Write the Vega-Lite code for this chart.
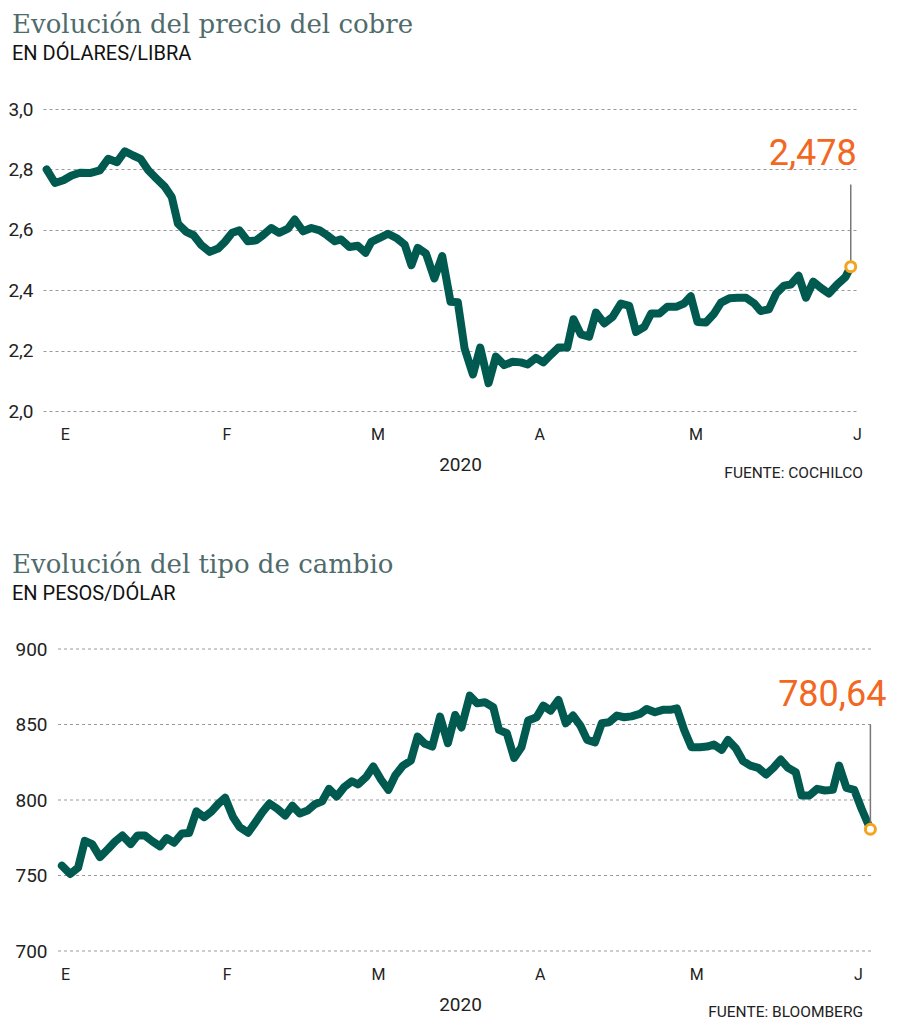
{
  "$schema": "https://vega.github.io/schema/vega-lite/v6.json",
  "padding": {"left": 7, "top": 12, "right": 0, "bottom": 0},
  "config": {
    "locale": {"number": {"decimal": ",", "thousands": ".", "grouping": [3], "currency": ["$", ""]}},
    "view": {"stroke": null},
    "font": "Roboto",
    "axis": {"labelFont": "Roboto", "labelColor": "#222", "titleFont": "Roboto", "titleColor": "#222", "titleFontWeight": "normal"},
    "title": {"font": "DejaVu Serif", "fontSize": 26, "fontWeight": "normal", "color": "#4f6b6b", "subtitleFont": "Roboto", "subtitleFontSize": 20, "subtitleColor": "#111", "subtitlePadding": 6}
  },
  "datasets": {
    "cobre": [
      {"dia": -3.5, "valor": 2.80}, {"dia": -1.9, "valor": 2.755}, {"dia": -0.3, "valor": 2.764}, {"dia": 1.3, "valor": 2.78},
      {"dia": 2.9, "valor": 2.789}, {"dia": 4.8, "valor": 2.788}, {"dia": 6.7, "valor": 2.797}, {"dia": 8.3, "valor": 2.835},
      {"dia": 10.0, "valor": 2.824}, {"dia": 11.5, "valor": 2.86}, {"dia": 13.1, "valor": 2.846}, {"dia": 14.5, "valor": 2.835},
      {"dia": 16.0, "valor": 2.797}, {"dia": 17.6, "valor": 2.769}, {"dia": 19.2, "valor": 2.742}, {"dia": 20.5, "valor": 2.709},
      {"dia": 21.7, "valor": 2.62}, {"dia": 23.3, "valor": 2.593}, {"dia": 24.7, "valor": 2.582}, {"dia": 26.2, "valor": 2.549},
      {"dia": 27.8, "valor": 2.527}, {"dia": 29.4, "valor": 2.538}, {"dia": 30.7, "valor": 2.56}, {"dia": 32.1, "valor": 2.59},
      {"dia": 33.5, "valor": 2.598}, {"dia": 35.1, "valor": 2.562}, {"dia": 36.7, "valor": 2.565}, {"dia": 38.0, "valor": 2.582},
      {"dia": 39.6, "valor": 2.606}, {"dia": 41.1, "valor": 2.59}, {"dia": 42.8, "valor": 2.604}, {"dia": 44.1, "valor": 2.634},
      {"dia": 45.7, "valor": 2.595}, {"dia": 47.3, "valor": 2.606}, {"dia": 48.9, "valor": 2.598}, {"dia": 50.3, "valor": 2.582},
      {"dia": 51.8, "valor": 2.562}, {"dia": 53.0, "valor": 2.568}, {"dia": 54.6, "valor": 2.543}, {"dia": 56.2, "valor": 2.547},
      {"dia": 57.7, "valor": 2.524}, {"dia": 58.8, "valor": 2.56}, {"dia": 60.4, "valor": 2.573}, {"dia": 62.0, "valor": 2.587},
      {"dia": 63.6, "valor": 2.573}, {"dia": 65.2, "valor": 2.551}, {"dia": 66.5, "valor": 2.483}, {"dia": 67.7, "valor": 2.54},
      {"dia": 69.3, "valor": 2.521}, {"dia": 70.9, "valor": 2.439}, {"dia": 72.4, "valor": 2.513}, {"dia": 74.0, "valor": 2.362},
      {"dia": 75.4, "valor": 2.36}, {"dia": 76.7, "valor": 2.207}, {"dia": 78.3, "valor": 2.121}, {"dia": 79.7, "valor": 2.21},
      {"dia": 81.3, "valor": 2.092}, {"dia": 82.7, "valor": 2.18}, {"dia": 84.3, "valor": 2.152}, {"dia": 85.9, "valor": 2.163},
      {"dia": 87.5, "valor": 2.161}, {"dia": 88.8, "valor": 2.154}, {"dia": 90.4, "valor": 2.176}, {"dia": 91.8, "valor": 2.161},
      {"dia": 93.3, "valor": 2.187}, {"dia": 94.7, "valor": 2.21}, {"dia": 96.4, "valor": 2.21}, {"dia": 97.6, "valor": 2.304},
      {"dia": 99.0, "valor": 2.254}, {"dia": 100.6, "valor": 2.246}, {"dia": 101.9, "valor": 2.326}, {"dia": 103.5, "valor": 2.29},
      {"dia": 105.1, "valor": 2.312}, {"dia": 106.7, "valor": 2.356}, {"dia": 108.3, "valor": 2.348}, {"dia": 109.6, "valor": 2.262},
      {"dia": 111.2, "valor": 2.279}, {"dia": 112.5, "valor": 2.323}, {"dia": 114.1, "valor": 2.323}, {"dia": 115.6, "valor": 2.345},
      {"dia": 117.3, "valor": 2.345}, {"dia": 118.8, "valor": 2.356}, {"dia": 120.1, "valor": 2.38}, {"dia": 121.4, "valor": 2.295},
      {"dia": 123.0, "valor": 2.293}, {"dia": 124.6, "valor": 2.323}, {"dia": 125.9, "valor": 2.359}, {"dia": 127.5, "valor": 2.373},
      {"dia": 129.1, "valor": 2.375}, {"dia": 130.7, "valor": 2.375}, {"dia": 132.3, "valor": 2.356}, {"dia": 133.5, "valor": 2.331},
      {"dia": 135.1, "valor": 2.337}, {"dia": 136.5, "valor": 2.389}, {"dia": 138.0, "valor": 2.415}, {"dia": 139.3, "valor": 2.419},
      {"dia": 140.8, "valor": 2.448}, {"dia": 142.2, "valor": 2.375}, {"dia": 143.6, "valor": 2.428}, {"dia": 145.2, "valor": 2.406},
      {"dia": 146.6, "valor": 2.389}, {"dia": 148.2, "valor": 2.419}, {"dia": 149.8, "valor": 2.444}, {"dia": 150.8, "valor": 2.478}
    ],
    "dolar": [
      {"dia": -0.6, "valor": 756.5}, {"dia": 1.0, "valor": 751}, {"dia": 2.5, "valor": 755.2}, {"dia": 3.8, "valor": 773},
      {"dia": 5.2, "valor": 770.8}, {"dia": 6.7, "valor": 762.2}, {"dia": 8.3, "valor": 767.7}, {"dia": 9.6, "valor": 772.5},
      {"dia": 11.0, "valor": 776.5}, {"dia": 12.6, "valor": 770.8}, {"dia": 13.9, "valor": 776.5}, {"dia": 15.3, "valor": 776.5},
      {"dia": 16.7, "valor": 772.8}, {"dia": 18.2, "valor": 769.3}, {"dia": 19.5, "valor": 774.8}, {"dia": 20.9, "valor": 771.7},
      {"dia": 22.4, "valor": 777.8}, {"dia": 23.8, "valor": 778.2}, {"dia": 25.2, "valor": 792.5}, {"dia": 26.7, "valor": 788.6},
      {"dia": 28.1, "valor": 792.5}, {"dia": 29.4, "valor": 797.5}, {"dia": 30.7, "valor": 801.5}, {"dia": 32.2, "valor": 788.7},
      {"dia": 33.5, "valor": 782}, {"dia": 35.1, "valor": 778.3}, {"dia": 36.4, "valor": 784.7}, {"dia": 37.9, "valor": 792.2},
      {"dia": 39.2, "valor": 797.7}, {"dia": 40.7, "valor": 794.2}, {"dia": 42.2, "valor": 789.7}, {"dia": 43.6, "valor": 796.2},
      {"dia": 45.0, "valor": 791.1}, {"dia": 46.5, "valor": 793}, {"dia": 47.9, "valor": 797.2}, {"dia": 49.3, "valor": 799.2},
      {"dia": 50.6, "valor": 807.4}, {"dia": 52.1, "valor": 802.3}, {"dia": 53.5, "valor": 808.5}, {"dia": 55.0, "valor": 812.4},
      {"dia": 56.2, "valor": 810.3}, {"dia": 57.8, "valor": 815.5}, {"dia": 59.1, "valor": 822.2}, {"dia": 60.6, "valor": 813.4},
      {"dia": 62.0, "valor": 806.7}, {"dia": 63.3, "valor": 816.2}, {"dia": 64.8, "valor": 822.8}, {"dia": 66.3, "valor": 826.1},
      {"dia": 67.6, "valor": 842}, {"dia": 69.0, "valor": 837.2}, {"dia": 70.4, "valor": 835.4}, {"dia": 71.9, "valor": 855.2},
      {"dia": 73.4, "valor": 837.6}, {"dia": 74.8, "valor": 856.3}, {"dia": 76.0, "valor": 848}, {"dia": 77.6, "valor": 869.1},
      {"dia": 79.0, "valor": 864}, {"dia": 80.5, "valor": 864.7}, {"dia": 82.1, "valor": 861.4}, {"dia": 83.2, "valor": 846.4},
      {"dia": 84.7, "valor": 844.2}, {"dia": 86.1, "valor": 827.9}, {"dia": 87.5, "valor": 834.9}, {"dia": 88.8, "valor": 852.6},
      {"dia": 90.4, "valor": 854.8}, {"dia": 91.7, "valor": 862.5}, {"dia": 93.1, "valor": 859.2}, {"dia": 94.6, "valor": 866.3},
      {"dia": 96.0, "valor": 850.8}, {"dia": 97.4, "valor": 855.9}, {"dia": 98.8, "valor": 849.3}, {"dia": 100.1, "valor": 839.8},
      {"dia": 101.6, "valor": 838.2}, {"dia": 102.9, "valor": 850.8}, {"dia": 104.3, "valor": 851.5}, {"dia": 105.8, "valor": 855.9},
      {"dia": 107.2, "valor": 854.8}, {"dia": 108.6, "valor": 855.4}, {"dia": 110.2, "valor": 857}, {"dia": 111.5, "valor": 860.3},
      {"dia": 113.1, "valor": 858.1}, {"dia": 114.6, "valor": 859.7}, {"dia": 116.0, "valor": 859.7}, {"dia": 117.3, "valor": 860.7},
      {"dia": 118.7, "valor": 846.4}, {"dia": 120.1, "valor": 834.9}, {"dia": 121.7, "valor": 834.9}, {"dia": 123.1, "valor": 835.4},
      {"dia": 124.4, "valor": 836.7}, {"dia": 125.9, "valor": 833.2}, {"dia": 127.1, "valor": 839.8}, {"dia": 128.6, "valor": 834.3},
      {"dia": 130.0, "valor": 825.7}, {"dia": 131.4, "valor": 822.8}, {"dia": 132.9, "valor": 821.3}, {"dia": 134.4, "valor": 816.9},
      {"dia": 135.8, "valor": 821.3}, {"dia": 137.2, "valor": 826.8}, {"dia": 138.6, "valor": 821.3}, {"dia": 140.1, "valor": 818.4},
      {"dia": 141.2, "valor": 803}, {"dia": 142.7, "valor": 803}, {"dia": 144.2, "valor": 807.4}, {"dia": 145.7, "valor": 806.3},
      {"dia": 147.2, "valor": 806.7}, {"dia": 148.4, "valor": 822.8}, {"dia": 149.8, "valor": 808.1}, {"dia": 151.3, "valor": 806.7},
      {"dia": 152.7, "valor": 794.2}, {"dia": 154.4, "valor": 780.64}
    ],
    "lineas_dolar": [{"nivel": 700}, {"nivel": 750}, {"nivel": 800}, {"nivel": 850}, {"nivel": 900}]
  },
  "columns": 1,
  "spacing": 70,
  "concat": [
    {
      "title": {"text": "Evolución del precio del cobre", "subtitle": "EN DÓLARES/LIBRA", "anchor": "start", "offset": 36, "dx": 5},
      "vconcat": [
        {
          "width": 814,
          "height": 302,
          "data": {"name": "cobre"},
          "title": {"text": "FUENTE: COCHILCO", "orient": "bottom", "anchor": "end", "frame": "group", "dx": 6, "offset": -8, "font": "Roboto", "fontSize": 15.5, "fontWeight": "normal", "color": "#222"},
          "encoding": {
            "x": {"field": "dia", "type": "quantitative", "scale": {"domain": [-4.2, 152], "nice": false, "zero": false},
              "axis": {"values": [0, 31, 60, 91, 121, 152], "labelExpr": "datum.value < 15 ? 'E' : datum.value < 45 ? 'F' : datum.value < 75 ? 'M' : datum.value < 105 ? 'A' : datum.value < 135 ? 'M' : 'J'", "labelFontSize": 16, "labelPadding": 15, "labelFlush": false, "labelOverlap": false, "domain": false, "ticks": false, "grid": false, "title": "2020", "titleFontSize": 19, "titlePadding": 13, "titleX": 417}},
            "y": {"field": "valor", "type": "quantitative", "scale": {"domain": [2, 3], "nice": false, "zero": false},
              "axis": {"values": [2, 2.2, 2.4, 2.6, 2.8, 3], "format": ".1f", "labelFontSize": 19, "labelPadding": 10, "domain": false, "ticks": false, "grid": true, "gridDash": [3, 3], "gridColor": "#9a9a9a", "gridWidth": 1.2, "title": null, "minExtent": 36, "maxExtent": 36}}
          },
          "layer": [
            {"mark": {"type": "line", "color": "#005a50", "strokeWidth": 8, "strokeJoin": "round", "strokeCap": "round"}},
            {"transform": [{"joinaggregate": [{"op": "max", "field": "dia", "as": "ultimo"}]}, {"filter": "datum.dia === datum.ultimo"}],
              "mark": {"type": "rule", "color": "#777", "strokeWidth": 1.5},
              "encoding": {"y2": {"datum": 2.75}}},
            {"transform": [{"joinaggregate": [{"op": "max", "field": "dia", "as": "ultimo"}]}, {"filter": "datum.dia === datum.ultimo"}],
              "mark": {"type": "point", "filled": true, "fill": "#ffffff", "stroke": "#f5a31a", "strokeWidth": 3, "size": 100, "opacity": 1}},
            {"transform": [{"joinaggregate": [{"op": "max", "field": "dia", "as": "ultimo"}]}, {"filter": "datum.dia === datum.ultimo"}],
              "mark": {"type": "text", "align": "right", "baseline": "alphabetic", "dx": 6, "fontSize": 36, "font": "Roboto", "color": "#f26722"},
              "encoding": {"y": {"datum": 2.816}, "text": {"field": "valor", "type": "quantitative", "format": ".3f"}}}
          ]
        }
      ]
    },
    {
      "title": {"text": "Evolución del tipo de cambio", "subtitle": "EN PESOS/DÓLAR", "anchor": "start", "offset": 36, "dx": 5},
      "vconcat": [
        {
          "width": 830,
          "height": 302,
          "title": {"text": "FUENTE: BLOOMBERG", "orient": "bottom", "anchor": "end", "frame": "group", "dx": -10, "offset": -9, "font": "Roboto", "fontSize": 15.5, "fontWeight": "normal", "color": "#222"},
          "layer": [
            {
              "data": {"name": "lineas_dolar"},
              "mark": {"type": "rule", "color": "#9a9a9a", "strokeWidth": 1.2, "strokeDash": [3, 3]},
              "encoding": {
                "x": {"datum": -1.34, "type": "quantitative", "scale": {"domain": [-4.22, 154.9], "nice": false, "zero": false}},
                "x2": {"datum": 154.9},
                "y": {"field": "nivel", "type": "quantitative", "scale": {"domain": [700, 900], "nice": false, "zero": false},
                  "axis": {"values": [700, 750, 800, 850, 900], "format": "d", "labelFontSize": 19, "labelPadding": -4, "domain": false, "ticks": false, "grid": false, "title": null, "minExtent": 36, "maxExtent": 36}}
              }
            },
            {
              "data": {"name": "dolar"},
              "encoding": {
                "x": {"field": "dia", "type": "quantitative", "scale": {"domain": [-4.22, 154.9], "nice": false, "zero": false},
                  "axis": {"values": [0, 31, 60, 91, 121, 152], "labelExpr": "datum.value < 15 ? 'E' : datum.value < 45 ? 'F' : datum.value < 75 ? 'M' : datum.value < 105 ? 'A' : datum.value < 135 ? 'M' : 'J'", "labelFontSize": 16, "labelPadding": 15, "labelFlush": false, "labelOverlap": false, "domain": false, "ticks": false, "grid": false, "title": "2020", "titleFontSize": 19, "titlePadding": 13, "titleX": 417}},
                "y": {"field": "valor", "type": "quantitative", "scale": {"domain": [700, 900], "nice": false, "zero": false},
                  "axis": {"values": [700, 750, 800, 850, 900], "format": "d", "labelFontSize": 19, "labelPadding": -4, "domain": false, "ticks": false, "grid": false, "title": null, "minExtent": 36, "maxExtent": 36}}
              },
              "layer": [
                {"mark": {"type": "line", "color": "#005a50", "strokeWidth": 8, "strokeJoin": "round", "strokeCap": "round"}},
                {"transform": [{"joinaggregate": [{"op": "max", "field": "dia", "as": "ultimo"}]}, {"filter": "datum.dia === datum.ultimo"}],
                  "mark": {"type": "rule", "color": "#777", "strokeWidth": 1.5},
                  "encoding": {"y2": {"datum": 850}}},
                {"transform": [{"joinaggregate": [{"op": "max", "field": "dia", "as": "ultimo"}]}, {"filter": "datum.dia === datum.ultimo"}],
                  "mark": {"type": "point", "filled": true, "fill": "#ffffff", "stroke": "#f5a31a", "strokeWidth": 3, "size": 100, "opacity": 1}},
                {"transform": [{"joinaggregate": [{"op": "max", "field": "dia", "as": "ultimo"}]}, {"filter": "datum.dia === datum.ultimo"}],
                  "mark": {"type": "text", "align": "right", "baseline": "alphabetic", "dx": 16, "fontSize": 36, "font": "Roboto", "color": "#f26722"},
                  "encoding": {"y": {"datum": 862.5}, "text": {"field": "valor", "type": "quantitative", "format": ".2f"}}}
              ]
            }
          ]
        }
      ]
    }
  ]
}
